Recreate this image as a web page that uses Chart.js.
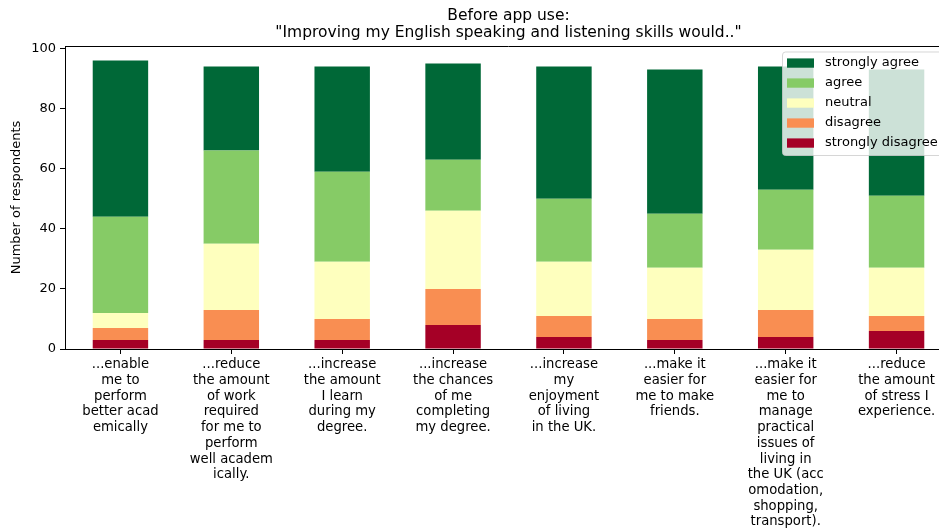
<!DOCTYPE html>
<html>
<head>
<meta charset="utf-8">
<script src="https://cdn.jsdelivr.net/npm/chart.js@4"></script>
<style>
  html, body { margin: 0; padding: 0; background: #fff; overflow: hidden; }
  #wrap { width: 960px; height: 529px; }
</style>
</head>
<body>
<div id="wrap"><canvas id="surveyChart"></canvas></div>
<script>
// answers per statement, stacked bottom (strongly disagree) to top (strongly agree)
const questions = [
  ['...enable', 'me to', 'perform', 'better acad', 'emically'],
  ['...reduce', 'the amount', 'of work', 'required', 'for me to', 'perform', 'well academ', 'ically.'],
  ['...increase', 'the amount', 'I learn', 'during my', 'degree.'],
  ['...increase', 'the chances', 'of me', 'completing', 'my degree.'],
  ['...increase', 'my', 'enjoyment', 'of living', 'in the UK.'],
  ['...make it', 'easier for', 'me to make', 'friends.'],
  ['...make it', 'easier for', 'me to', 'manage', 'practical', 'issues of', 'living in', 'the UK (acc', 'omodation,', 'shopping,', 'transport).'],
  ['...reduce', 'the amount', 'of stress I', 'experience.']
];
const stronglyDisagree = [3, 3, 3, 8, 4, 3, 4, 6];
const disagree = [4, 10, 7, 12, 7, 7, 9, 5];
const neutral = [5, 22, 19, 26, 18, 17, 20, 16];
const agree = [32, 31, 30, 17, 21, 18, 20, 24];
const stronglyAgree = [52, 28, 35, 32, 44, 48, 41, 42];

const answerLabels = ['strongly disagree', 'disagree', 'neutral', 'agree', 'strongly agree'];
const answerColors = ['#a50026', '#f98e52', '#feffbe', '#86cb66', '#006837'];
const titleLines = ['Before app use:', '"Improving my English speaking and listening skills would.."'];

const FONT = 'DejaVu Sans';
const series = [stronglyDisagree, disagree, neutral, agree, stronglyAgree];
const totals = questions.map((q, i) => series.reduce((s, arr) => s + arr[i], 0));
const yMax = Math.max(...totals) * 1.05;

// title, top spine and the semi-transparent legend box
const decorations = {
  id: 'decorations',
  afterDraw(chart) {
    const { ctx, chartArea: a } = chart;
    ctx.save();
    ctx.strokeStyle = '#000';
    ctx.lineWidth = 1;
    ctx.beginPath();
    ctx.moveTo(a.left, a.top + 0.5);
    ctx.lineTo(a.right, a.top + 0.5);
    ctx.stroke();

    ctx.fillStyle = '#000';
    ctx.font = '15.5px "' + FONT + '"';
    ctx.textAlign = 'center';
    ctx.textBaseline = 'middle';
    const cx = (a.left + a.right) / 2;
    ctx.fillText(titleLines[0], cx, 16);
    ctx.fillText(titleLines[1], cx, 33);

    // legend, listed top of stack first
    const bx = a.right - 170, by = a.top + 5.5, bh = 103.5, bw = 200;
    ctx.beginPath();
    ctx.roundRect(bx + 0.5, by + 0.5, bw, bh, 3);
    ctx.fillStyle = 'rgba(255,255,255,0.8)';
    ctx.fill();
    ctx.strokeStyle = 'rgba(204,204,204,0.8)';
    ctx.stroke();
    ctx.font = '13px "' + FONT + '"';
    ctx.textAlign = 'left';
    const sets = chart.data.datasets.slice().reverse();
    sets.forEach((ds, i) => {
      const ry = by + 11.5 + i * 20;
      ctx.fillStyle = ds.backgroundColor;
      ctx.fillRect(bx + 5, ry - 4.6, 27, 9.3);
      ctx.fillStyle = '#000';
      ctx.fillText(ds.label, bx + 43, ry);
    });
    ctx.restore();
  }
};

new Chart(document.getElementById('surveyChart'), {
  type: 'bar',
  data: {
    labels: questions,
    datasets: series.map((data, i) => ({
      label: answerLabels[i],
      data: data,
      backgroundColor: answerColors[i],
      borderWidth: 0,
      categoryPercentage: 1,
      barPercentage: 0.5
    }))
  },
  options: {
    responsive: true,
    maintainAspectRatio: false,
    animation: false,
    layout: { padding: { top: 46, right: 8, left: 0, bottom: 0 } },
    plugins: {
      legend: { display: false },
      title: { display: false },
      tooltip: { enabled: false }
    },
    scales: {
      x: {
        stacked: true,
        afterFit: scale => { scale.height = 180; },
        grid: { display: true, drawOnChartArea: false, offset: false, color: '#000', tickLength: 5 },
        border: { display: true, color: '#000', width: 1 },
        ticks: {
          autoSkip: false,
          maxRotation: 0,
          padding: 3,
          color: '#000',
          font: { family: FONT, size: 13.2, lineHeight: 1.19 }
        }
      },
      y: {
        stacked: true,
        min: 0,
        max: yMax,
        afterFit: scale => { scale.width = 65; },
        grid: { display: true, drawOnChartArea: false, color: '#000', tickLength: 5 },
        border: { display: true, color: '#000', width: 1 },
        ticks: {
          stepSize: 20,
          includeBounds: false,
          padding: 4,
          color: '#000',
          font: { family: FONT, size: 13 }
        },
        title: {
          display: true,
          text: 'Number of respondents',
          color: '#000',
          padding: { top: 9, bottom: 0 },
          font: { family: FONT, size: 13 }
        }
      }
    }
  },
  plugins: [decorations]
});
</script>
</body>
</html>
